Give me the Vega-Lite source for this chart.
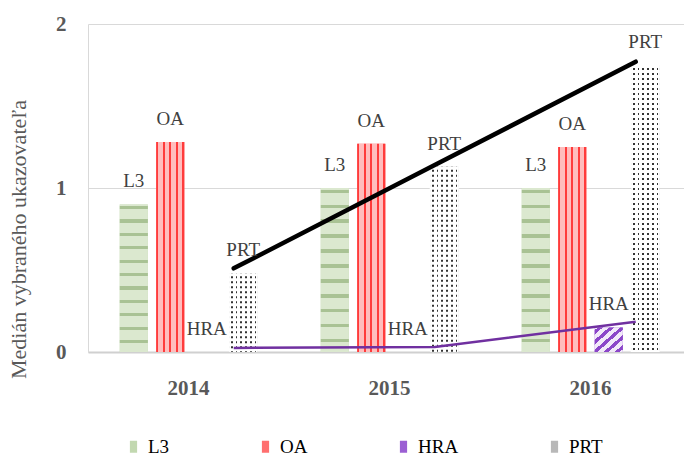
{
  "$schema": "https://vega.github.io/schema/vega-lite/v6.json",
  "width": 596,
  "height": 328,
  "autosize": "none",
  "padding": {"left": 88, "top": 24, "right": 0, "bottom": 104},
  "background": "white",
  "config": {
    "view": {"stroke": null},
    "font": "Liberation Serif",
    "legend": {"labelFont": "Times New Roman", "labelFontSize": 19, "labelColor": "#000000"}
  },
  "datasets": {
    "bars": [
      {"year": "2014", "series": "L3", "value": 0.90},
      {"year": "2014", "series": "OA", "value": 1.28},
      {"year": "2014", "series": "HRA", "value": 0},
      {"year": "2014", "series": "PRT", "value": 0.48},
      {"year": "2015", "series": "L3", "value": 1.00},
      {"year": "2015", "series": "OA", "value": 1.27},
      {"year": "2015", "series": "HRA", "value": 0},
      {"year": "2015", "series": "PRT", "value": 1.13},
      {"year": "2016", "series": "L3", "value": 1.00},
      {"year": "2016", "series": "OA", "value": 1.25},
      {"year": "2016", "series": "HRA", "value": 0.15},
      {"year": "2016", "series": "PRT", "value": 1.75}
    ],
    "prtline": [
      {"year": "2014", "value": 0.51},
      {"year": "2015", "value": 1.14},
      {"year": "2016", "value": 1.77}
    ],
    "hraline": [
      {"year": "2014", "value": 0.025},
      {"year": "2015", "value": 0.03},
      {"year": "2016", "value": 0.185}
    ]
  },
  "layer": [
    {
      "data": {"name": "bars"},
      "mark": {"type": "bar"},
      "encoding": {
        "x": {
          "field": "year", "type": "ordinal",
          "scale": {"range": [0, 603], "paddingInner": 0, "paddingOuter": 0},
          "axis": {
            "title": null, "labelAngle": 0, "labelFont": "Liberation Serif", "labelFontSize": 21,
            "labelFontWeight": "bold", "labelColor": "#595959", "labelPadding": 25,
            "ticks": false, "domainColor": "#d0d0d0", "domainWidth": 2
          }
        },
        "xOffset": {
          "field": "series", "type": "nominal",
          "scale": {"domain": ["L3", "OA", "HRA", "PRT"], "paddingInner": 0.23, "paddingOuter": 0.87}
        },
        "y": {
          "field": "value", "type": "quantitative",
          "scale": {"domain": [0, 2], "nice": false},
          "axis": {
            "title": "Medián vybraného ukazovateľa", "tickCount": 2,
            "labelFont": "Liberation Serif", "labelFontSize": 21, "labelFontWeight": "bold",
            "labelColor": "#595959", "labelPadding": 22, "ticks": false, "labelOverlap": false,
            "domainColor": "#d9d9d9", "gridColor": "#d9d9d9", "grid": true,
            "titleFont": "Liberation Serif", "titleFontSize": 22, "titleFontWeight": "normal",
            "titleColor": "#595959", "titleX": -70, "titleY": 215, "titleAngle": -90,
            "titleAlign": "center", "titleBaseline": "middle"
          }
        },
        "color": {
          "field": "series", "type": "nominal",
          "scale": {"domain": ["L3", "OA", "HRA", "PRT"], "range": ["#c2d8b0", "#ff6f6f", "#9b5fd3", "#b8b8b8"]},
          "legend": {
            "title": null, "orient": "none", "direction": "horizontal", "legendX": 36, "legendY": 413,
            "symbolType": "M-0.6,-1H0.6V1H-0.6Z", "symbolSize": 144, "symbolStrokeWidth": 0,
            "labelFont": "Times New Roman", "labelFontSize": 19, "labelColor": "#000000",
            "columnPadding": 86, "labelOffset": 5
          }
        }
      }
    },
    {
      "data": {"name": "bars"},
      "transform": [{"filter": "datum.series == 'L3'"}],
      "mark": {
        "type": "bar",
        "fill": {
          "gradient": "linear", "x1": 0, "y1": 0, "x2": 0, "y2": 1,
          "stops": [
            {"offset": 0, "color": "#dbe8cf"},
            {"offset": 0.010, "color": "#dbe8cf"}, {"offset": 0.010, "color": "#a9c294"}, {"offset": 0.032, "color": "#a9c294"}, {"offset": 0.032, "color": "#dbe8cf"},
            {"offset": 0.101, "color": "#dbe8cf"}, {"offset": 0.101, "color": "#a9c294"}, {"offset": 0.123, "color": "#a9c294"}, {"offset": 0.123, "color": "#dbe8cf"},
            {"offset": 0.192, "color": "#dbe8cf"}, {"offset": 0.192, "color": "#a9c294"}, {"offset": 0.214, "color": "#a9c294"}, {"offset": 0.214, "color": "#dbe8cf"},
            {"offset": 0.283, "color": "#dbe8cf"}, {"offset": 0.283, "color": "#a9c294"}, {"offset": 0.305, "color": "#a9c294"}, {"offset": 0.305, "color": "#dbe8cf"},
            {"offset": 0.374, "color": "#dbe8cf"}, {"offset": 0.374, "color": "#a9c294"}, {"offset": 0.396, "color": "#a9c294"}, {"offset": 0.396, "color": "#dbe8cf"},
            {"offset": 0.465, "color": "#dbe8cf"}, {"offset": 0.465, "color": "#a9c294"}, {"offset": 0.487, "color": "#a9c294"}, {"offset": 0.487, "color": "#dbe8cf"},
            {"offset": 0.555, "color": "#dbe8cf"}, {"offset": 0.555, "color": "#a9c294"}, {"offset": 0.577, "color": "#a9c294"}, {"offset": 0.577, "color": "#dbe8cf"},
            {"offset": 0.646, "color": "#dbe8cf"}, {"offset": 0.646, "color": "#a9c294"}, {"offset": 0.668, "color": "#a9c294"}, {"offset": 0.668, "color": "#dbe8cf"},
            {"offset": 0.737, "color": "#dbe8cf"}, {"offset": 0.737, "color": "#a9c294"}, {"offset": 0.759, "color": "#a9c294"}, {"offset": 0.759, "color": "#dbe8cf"},
            {"offset": 0.828, "color": "#dbe8cf"}, {"offset": 0.828, "color": "#a9c294"}, {"offset": 0.850, "color": "#a9c294"}, {"offset": 0.850, "color": "#dbe8cf"},
            {"offset": 0.919, "color": "#dbe8cf"}, {"offset": 0.919, "color": "#a9c294"}, {"offset": 0.941, "color": "#a9c294"}, {"offset": 0.941, "color": "#dbe8cf"},
            {"offset": 1, "color": "#dbe8cf"}
          ]
        }
      },
      "encoding": {
        "x": {"field": "year", "type": "ordinal"},
        "xOffset": {"field": "series", "type": "nominal"},
        "y": {"field": "value", "type": "quantitative"}
      }
    },
    {
      "data": {"name": "bars"},
      "transform": [{"filter": "datum.series == 'OA'"}],
      "mark": {
        "type": "bar",
        "fill": {
          "gradient": "linear", "x1": 0, "y1": 0, "x2": 1, "y2": 0,
          "stops": [
            {"offset": 0, "color": "#ff3b3b"}, {"offset": 0.08, "color": "#ff3b3b"},
            {"offset": 0.08, "color": "#ffbdbd"}, {"offset": 0.23, "color": "#ffbdbd"},
            {"offset": 0.23, "color": "#ff3b3b"}, {"offset": 0.31, "color": "#ff3b3b"},
            {"offset": 0.31, "color": "#ffbdbd"}, {"offset": 0.46, "color": "#ffbdbd"},
            {"offset": 0.46, "color": "#ff3b3b"}, {"offset": 0.54, "color": "#ff3b3b"},
            {"offset": 0.54, "color": "#ffbdbd"}, {"offset": 0.69, "color": "#ffbdbd"},
            {"offset": 0.69, "color": "#ff3b3b"}, {"offset": 0.77, "color": "#ff3b3b"},
            {"offset": 0.77, "color": "#ffbdbd"}, {"offset": 0.92, "color": "#ffbdbd"},
            {"offset": 0.92, "color": "#ff3b3b"}, {"offset": 1, "color": "#ff3b3b"}
          ]
        }
      },
      "encoding": {
        "x": {"field": "year", "type": "ordinal"},
        "xOffset": {"field": "series", "type": "nominal"},
        "y": {"field": "value", "type": "quantitative"}
      }
    },
    {
      "data": {"name": "bars"},
      "transform": [{"filter": "datum.series == 'HRA'"}],
      "mark": {
        "type": "bar",
        "fill": {
          "gradient": "linear", "x1": 0, "y1": 0, "x2": 1, "y2": 1,
          "stops": [
            {"offset": 0, "color": "#f1e8f9"}, {"offset": 0.055, "color": "#f1e8f9"},
            {"offset": 0.055, "color": "#8b46c9"}, {"offset": 0.145, "color": "#8b46c9"},
            {"offset": 0.145, "color": "#f1e8f9"}, {"offset": 0.255, "color": "#f1e8f9"},
            {"offset": 0.255, "color": "#8b46c9"}, {"offset": 0.345, "color": "#8b46c9"},
            {"offset": 0.345, "color": "#f1e8f9"}, {"offset": 0.455, "color": "#f1e8f9"},
            {"offset": 0.455, "color": "#8b46c9"}, {"offset": 0.545, "color": "#8b46c9"},
            {"offset": 0.545, "color": "#f1e8f9"}, {"offset": 0.655, "color": "#f1e8f9"},
            {"offset": 0.655, "color": "#8b46c9"}, {"offset": 0.745, "color": "#8b46c9"},
            {"offset": 0.745, "color": "#f1e8f9"}, {"offset": 0.855, "color": "#f1e8f9"},
            {"offset": 0.855, "color": "#8b46c9"}, {"offset": 0.945, "color": "#8b46c9"},
            {"offset": 0.945, "color": "#f1e8f9"}, {"offset": 1, "color": "#f1e8f9"}
          ]
        }
      },
      "encoding": {
        "x": {"field": "year", "type": "ordinal"},
        "xOffset": {"field": "series", "type": "nominal"},
        "y": {"field": "value", "type": "quantitative"}
      }
    },
    {
      "data": {"name": "bars"},
      "transform": [{"filter": "datum.series == 'PRT'"}],
      "mark": {
        "type": "bar",
        "fill": {
          "gradient": "linear", "x1": 0, "y1": 0, "x2": 1, "y2": 0,
          "stops": [
            {"offset": 0, "color": "#ffffff"}, {"offset": 0.06, "color": "#ffffff"},
            {"offset": 0.06, "color": "#333333"}, {"offset": 0.12, "color": "#333333"},
            {"offset": 0.12, "color": "#ffffff"}, {"offset": 0.23, "color": "#ffffff"},
            {"offset": 0.23, "color": "#333333"}, {"offset": 0.29, "color": "#333333"},
            {"offset": 0.29, "color": "#ffffff"}, {"offset": 0.40, "color": "#ffffff"},
            {"offset": 0.40, "color": "#333333"}, {"offset": 0.46, "color": "#333333"},
            {"offset": 0.46, "color": "#ffffff"}, {"offset": 0.57, "color": "#ffffff"},
            {"offset": 0.57, "color": "#333333"}, {"offset": 0.63, "color": "#333333"},
            {"offset": 0.63, "color": "#ffffff"}, {"offset": 0.74, "color": "#ffffff"},
            {"offset": 0.74, "color": "#333333"}, {"offset": 0.80, "color": "#333333"},
            {"offset": 0.80, "color": "#ffffff"}, {"offset": 0.91, "color": "#ffffff"},
            {"offset": 0.91, "color": "#333333"}, {"offset": 0.97, "color": "#333333"},
            {"offset": 0.97, "color": "#ffffff"}, {"offset": 1, "color": "#ffffff"}
          ]
        }
      },
      "encoding": {
        "x": {"field": "year", "type": "ordinal"},
        "xOffset": {"field": "series", "type": "nominal"},
        "y": {"field": "value", "type": "quantitative"}
      }
    },
    {
      "data": {"name": "bars"},
      "transform": [{"filter": "datum.series == 'PRT'"}],
      "mark": {"type": "rule", "color": "#ffffff", "strokeWidth": 29, "strokeDash": [3, 2], "strokeCap": "butt"},
      "encoding": {
        "x": {"field": "year", "type": "ordinal"},
        "xOffset": {"field": "series", "type": "nominal"},
        "y": {"field": "value", "type": "quantitative"},
        "y2": {"datum": 0}
      }
    },
    {
      "data": {"name": "hraline"},
      "mark": {"type": "line", "color": "#7030a0", "strokeWidth": 2.5},
      "encoding": {
        "x": {"field": "year", "type": "ordinal", "bandPosition": 0.725},
        "y": {"field": "value", "type": "quantitative"}
      }
    },
    {
      "data": {"name": "prtline"},
      "mark": {"type": "line", "color": "#000000", "strokeWidth": 4.5, "strokeCap": "round"},
      "encoding": {
        "x": {"field": "year", "type": "ordinal", "bandPosition": 0.725},
        "y": {"field": "value", "type": "quantitative"}
      }
    },
    {
      "data": {"name": "bars"},
      "mark": {"type": "text", "dy": -23, "baseline": "middle", "font": "Liberation Serif", "fontSize": 19, "color": "#404040"},
      "encoding": {
        "x": {"field": "year", "type": "ordinal"},
        "xOffset": {"field": "series", "type": "nominal"},
        "y": {"field": "value", "type": "quantitative"},
        "text": {"field": "series"}
      }
    }
  ]
}
